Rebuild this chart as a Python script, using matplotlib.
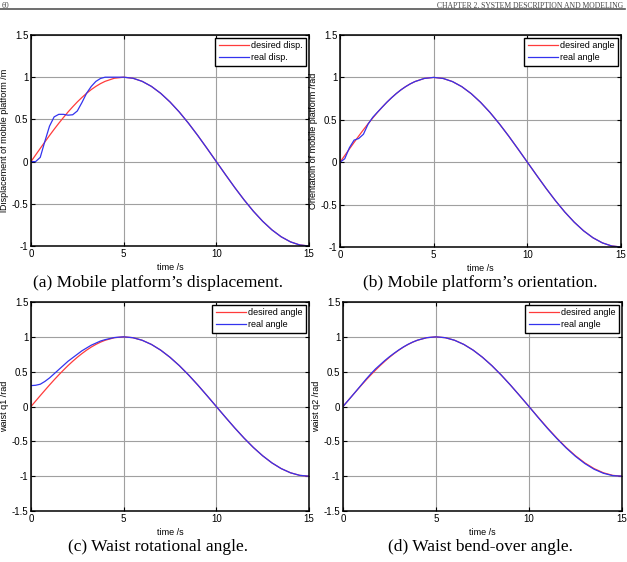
import matplotlib
matplotlib.use("Agg")
import matplotlib.pyplot as plt

# time samples (s)
t = [0, 0.25, 0.5, 0.75, 1.0, 1.25, 1.5, 1.75, 2.0, 2.25, 2.5, 2.75, 3.0, 3.25, 3.5, 3.75,
     4.0, 4.5, 5.0, 5.5, 6.0, 6.5, 7.0, 7.5, 8.0, 8.5, 9.0, 9.5, 10.0, 10.5, 11.0,
     11.5, 12.0, 12.5, 13.0, 13.5, 14.0, 14.5, 15.0]

# desired trajectory (same in all four panels)
desired = [0, 0.078, 0.156, 0.233, 0.309, 0.383, 0.454, 0.522, 0.588, 0.649, 0.707, 0.760,
           0.809, 0.853, 0.891, 0.924, 0.951, 0.988, 1.0, 0.988, 0.951, 0.891, 0.809, 0.707,
           0.588, 0.454, 0.309, 0.156, 0.0, -0.156, -0.309, -0.454, -0.588, -0.707, -0.809,
           -0.891, -0.951, -0.988, -1.0]

real_disp = [0, 0.0, 0.05, 0.24, 0.42, 0.53, 0.56, 0.56, 0.55, 0.555, 0.60, 0.70,
             0.81, 0.89, 0.95, 0.985, 1.0, 1.0, 1.0, 0.988, 0.951, 0.891, 0.809, 0.707,
             0.588, 0.454, 0.309, 0.156, 0.0, -0.156, -0.309, -0.454, -0.588, -0.707, -0.809,
             -0.891, -0.951, -0.988, -1.0]

real_orient = [0, 0.04, 0.17, 0.26, 0.28, 0.33, 0.45, 0.53, 0.59, 0.649, 0.707, 0.760,
               0.809, 0.853, 0.891, 0.924, 0.951, 0.988, 1.0, 0.988, 0.951, 0.891, 0.809, 0.707,
               0.588, 0.454, 0.309, 0.156, 0.0, -0.156, -0.309, -0.454, -0.588, -0.707, -0.809,
               -0.891, -0.951, -0.988, -1.0]

real_q1 = [0.30, 0.305, 0.32, 0.36, 0.41, 0.47, 0.53, 0.59, 0.65, 0.70, 0.75, 0.80,
           0.84, 0.88, 0.91, 0.94, 0.96, 0.99, 1.0, 0.988, 0.951, 0.891, 0.809, 0.707,
           0.588, 0.454, 0.309, 0.156, 0.0, -0.156, -0.309, -0.454, -0.588, -0.707, -0.809,
           -0.891, -0.951, -0.988, -1.0]

real_q2 = [0, 0.078, 0.156, 0.235, 0.315, 0.395, 0.47, 0.54, 0.60, 0.66, 0.715, 0.765,
           0.812, 0.855, 0.893, 0.925, 0.952, 0.988, 1.0, 0.988, 0.951, 0.891, 0.809, 0.707,
           0.588, 0.454, 0.309, 0.156, 0.0, -0.16, -0.315, -0.46, -0.595, -0.715, -0.818,
           -0.90, -0.958, -0.992, -1.0]

panels = [
    # (left, bottom, width, height), real series, labels, ylabel, ylim, caption, caption xy
    ((0.0494, 0.5623, 0.4434, 0.3754), real_disp, ["desired disp.", "real disp."],
     "lDisplacement of mobile platform /m", (-1, 1.5), "(a) Mobile platform\u2019s displacement.", (158, 283)),
    ((0.5423, 0.5605, 0.4482, 0.3772), real_orient, ["desired angle", "real angle"],
     "Orientatoin of mobile platform /rad", (-1, 1.5), "(b) Mobile platform\u2019s orientation.", (480, 283)),
    ((0.0494, 0.0907, 0.4434, 0.3719), real_q1, ["desired angle", "real angle"],
     "waist q1 /rad", (-1.5, 1.5), "(c) Waist rotational angle.", (158, 547)),
    ((0.5470, 0.0907, 0.4450, 0.3719), real_q2, ["desired angle", "real angle"],
     "waist q2 /rad", (-1.5, 1.5), "(d) Waist bend-over angle.", (480, 547)),
]

W, H = 627, 562
fig = plt.figure(figsize=(W / 100, H / 100), dpi=100)
plt.rcParams['font.family'] = ['Liberation Sans', 'DejaVu Sans']

# page header
fig.add_artist(plt.Line2D([0, 625 / W], [1 - 9 / H, 1 - 9 / H], color='#555555', lw=1.2))
fig.text(2 / W, 1 - 7.5 / H, "60", fontsize=5.5, family='Liberation Serif', color='#444444', va='baseline')
fig.text(623 / W, 1 - 7.5 / H, "CHAPTER 2. SYSTEM DESCRIPTION AND MODELING", fontsize=5.5,
         family='Liberation Serif', color='#444444', ha='right', va='baseline')

for rect, real, labels, ylab, ylim, caption, cxy in panels:
    ax = fig.add_axes(rect)
    ax.plot(t, desired, color='#ff3b3b', lw=0.9, label=labels[0])
    ax.plot(t, real, color='#3333ee', lw=0.9, label=labels[1])
    ax.set_xlim(0, 15)
    ax.set_ylim(*ylim)
    ax.set_xticks([0, 5, 10, 15])
    ax.set_yticks([v / 2 for v in range(int(ylim[0] * 2), int(ylim[1] * 2) + 1)])
    ax.set_yticklabels([f"{v:g}" for v in ax.get_yticks()])
    ax.grid(True, color='#a0a0a0', lw=0.8)
    ax.tick_params(direction='in', top=True, right=True, labelsize=7, length=3, width=0.8, pad=2)
    for s in ax.spines.values():
        s.set_linewidth(1.1)
    ax.set_xlabel("time /s", fontsize=6.5, labelpad=3)
    ax.set_ylabel(ylab, fontsize=6.5, labelpad=2)
    leg = ax.legend(loc='upper right', fontsize=6.5, handlelength=3.4, fancybox=False,
                    framealpha=1, borderaxespad=0.3, handletextpad=0.2, labelspacing=0.35)
    leg.get_frame().set_edgecolor('black')
    leg.get_frame().set_linewidth(1.0)
    fig.text(cxy[0] / W, 1 - cxy[1] / H, caption, fontsize=12.5, family='Liberation Serif',
             ha='center', va='center')

fig.savefig("out.png", dpi=100)
